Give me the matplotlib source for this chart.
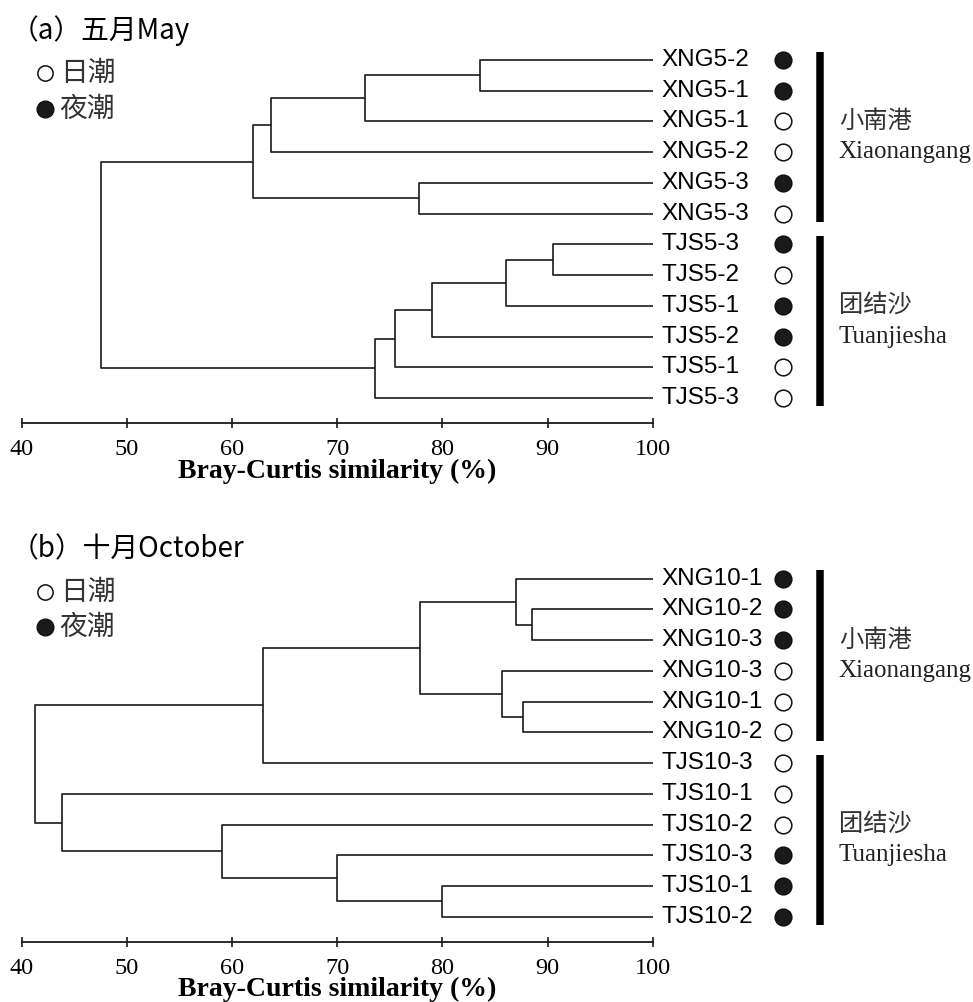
import matplotlib
matplotlib.use("Agg")
import matplotlib.pyplot as plt

# panel (a) - May
may_labels = ["XNG5-2", "XNG5-1", "XNG5-1", "XNG5-2", "XNG5-3", "XNG5-3",
              "TJS5-3", "TJS5-2", "TJS5-1", "TJS5-2", "TJS5-1", "TJS5-3"]
may_night = [1, 1, 0, 0, 1, 0, 1, 0, 1, 1, 0, 0]
# merges: (child a, child b, similarity); ids >= 12 are earlier merges
may_merges = [(0, 1, 83.6), (12, 2, 72.6), (13, 3, 63.7), (4, 5, 77.8),
              (14, 15, 62.0), (6, 7, 90.5), (17, 8, 86.05), (18, 9, 79.0),
              (19, 10, 75.5), (20, 11, 73.55), (16, 21, 47.5)]

# panel (b) - October
oct_labels = ["XNG10-1", "XNG10-2", "XNG10-3", "XNG10-3", "XNG10-1", "XNG10-2",
              "TJS10-3", "TJS10-1", "TJS10-2", "TJS10-3", "TJS10-1", "TJS10-2"]
oct_night = [1, 1, 1, 0, 0, 0, 0, 0, 0, 1, 1, 1]
oct_merges = [(1, 2, 88.55), (0, 12, 87.0), (4, 5, 87.7), (3, 14, 85.7),
              (13, 15, 77.9), (16, 6, 62.9), (10, 11, 80.0), (9, 18, 70.0),
              (8, 19, 59.0), (7, 20, 43.8), (17, 21, 41.2)]

groups = [("小南港", "Xiaonangang", 0, 5), ("团结沙", "Tuanjiesha", 6, 11)]
xticks = [40, 50, 60, 70, 80, 90, 100]

cjk = ["Noto Sans CJK SC", "DejaVu Sans"]
line_c = "#1a1a1a"

W, H = 973, 1002
fig = plt.figure(figsize=(W / 100, H / 100), dpi=100)


def draw_panel(ax, labels, night, merges, title):
    n = len(labels)
    xs = {i: 100.0 for i in range(n)}
    ys = {i: float(i) for i in range(n)}
    for k, (a, b, h) in enumerate(merges):
        node = n + k
        ax.plot([xs[a], h, h, xs[b]], [ys[a], ys[a], ys[b], ys[b]],
                color=line_c, lw=1.2, solid_capstyle="butt")
        xs[node] = h
        ys[node] = (ys[a] + ys[b]) / 2

    for i, lab in enumerate(labels):
        ax.text(100.8, i, lab, fontsize=17.5, family="Liberation Sans",
                va="center", ha="left", clip_on=False)
        ax.plot(112.4, i, "o", ms=12, mec="#111111", mew=1.1,
                mfc="#1a1a1a" if night[i] else "white", clip_on=False)

    for cn, en, lo, hi in groups:
        ax.plot([115.9, 115.9], [lo - 0.27, hi + 0.27], color="black",
                lw=5.4, solid_capstyle="butt", clip_on=False)
        mid = (lo + hi) / 2
        ax.text(117.7, mid - 0.5, cn, fontsize=17.5, family=cjk, color="#333333",
                va="center", ha="left", clip_on=False)
        ax.text(117.7, mid + 0.5, en, fontsize=18, family="Liberation Serif",
                color="#222222", va="center", ha="left", clip_on=False)

    ax.text(38.9, -0.95, title, fontsize=20, family=cjk, va="center",
            ha="left", clip_on=False)
    ax.plot(42.2, 0.43, "o", ms=11, mec="#111111", mew=1.1, mfc="white",
            clip_on=False)
    ax.plot(42.2, 1.58, "o", ms=12, mec="#111111", mfc="#1a1a1a",
            clip_on=False)
    ax.text(43.6, 0.43, "日潮", fontsize=20, family=cjk, color="#333333",
            va="center", ha="left", clip_on=False)
    ax.text(43.6, 1.58, "夜潮", fontsize=20, family=cjk, color="#333333",
            va="center", ha="left", clip_on=False)

    ax.set_xlim(40, 100)
    ax.set_ylim(11.81, -1.0)
    for s in ["top", "right", "left"]:
        ax.spines[s].set_visible(False)
    ax.spines["bottom"].set_linewidth(1.3)
    ax.spines["bottom"].set_color(line_c)
    ax.set_yticks([])
    ax.set_xticks(xticks)
    ax.set_xticklabels([str(t) for t in xticks], family="Liberation Serif",
                       fontsize=17.5)
    ax.tick_params(axis="x", direction="inout", length=7, width=1.2,
                   pad=8, color=line_c)
    ax.set_xlabel("Bray-Curtis similarity (%)", family="Liberation Serif",
                  fontsize=20, fontweight="bold", labelpad=-1)
    ax.patch.set_visible(False)


left = 22 / W
width = (652.7 - 22) / W
ax_h = (423 - 29.25) / H
ax1 = fig.add_axes([left, (H - 423) / H, width, ax_h])
ax2 = fig.add_axes([left, (H - 941.7) / H, width, ax_h])

draw_panel(ax1, may_labels, may_night, may_merges, "（a）五月May")
draw_panel(ax2, oct_labels, oct_night, oct_merges, "（b）十月October")

fig.savefig("out.png", dpi=100)
